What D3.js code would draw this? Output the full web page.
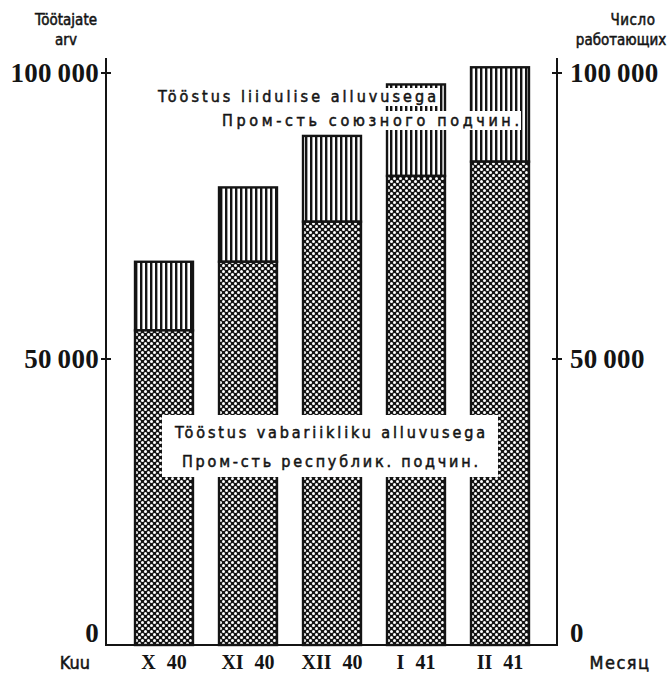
<!DOCTYPE html>
<html lang="et">
<head>
<meta charset="UTF-8">
<title>Töötajate arv</title>
<style>
  body { margin: 0; background: #fff; }
  svg { display: block; }
  .serif { font-family: "Liberation Serif", "DejaVu Serif", serif; font-weight: bold; }
  .sans { font-family: "DejaVu Sans Condensed", "DejaVu Sans", sans-serif; font-stretch: condensed; }
</style>
</head>
<body>
<svg></svg>
<script src="https://d3js.org/d3.v7.min.js"></script>
<script>
const months = ["X 40", "XI 40", "XII 40", "I 41", "II 41"];
const republic = [55000, 67000, 74000, 82000, 84500];   // Пром-сть республик. подчин.
const union = [12000, 13000, 15000, 16000, 16500];      // Пром-сть союзного подчин.
const yTicks = [0, 50000, 100000];
const upperLabel = ["Tööstus liidulise alluvusega", "Пром-сть союзного подчин."];
const lowerLabel = ["Tööstus vabariikliku alluvusega", "Пром-сть республик. подчин."];

const width = 671, height = 676;
const axisL = 106, axisR = 557, base = 645, top100 = 73;
const ink = "#141414";

const svg = d3.select("svg").attr("width", width).attr("height", height);

const x = d3.scaleBand().domain(months).range([122, 542]).paddingInner(0.31).paddingOuter(0.155);
const y = d3.scaleLinear().domain([0, 100000]).range([base, top100]);
const fmt = d3.formatLocale({decimal: ".", thousands: "\u2009", grouping: [3], currency: ["", ""]}).format(",");

// patterns
const defs = svg.append("defs");
const dots = defs.append("pattern").attr("id", "dots")
    .attr("patternUnits", "userSpaceOnUse").attr("width", 6).attr("height", 6);
dots.append("rect").attr("width", 6).attr("height", 6).attr("fill", ink);
dots.selectAll("circle").data([[1.5, 1.5], [4.5, 4.5]]).join("circle")
    .attr("cx", d => d[0]).attr("cy", d => d[1]).attr("r", 1.5).attr("fill", "#fff");

const stripes = defs.append("pattern").attr("id", "stripes")
    .attr("patternUnits", "userSpaceOnUse").attr("width", 5).attr("height", 10);
stripes.append("rect").attr("width", 5).attr("height", 10).attr("fill", "#fff");
stripes.append("rect").attr("x", 0).attr("width", 2.4).attr("height", 10).attr("fill", ink);

const rows = months.map((m, i) => ({month: m, rep: republic[i], uni: union[i]}));

// bars
const bars = svg.append("g").attr("class", "bars");
bars.selectAll("rect.uni").data(rows).join("rect")
    .attr("class", "uni")
    .attr("x", d => x(d.month))
    .attr("y", d => y(d.rep + d.uni))
    .attr("width", x.bandwidth())
    .attr("height", d => y(d.rep) - y(d.rep + d.uni))
    .attr("fill", "url(#stripes)")
    .attr("stroke", ink).attr("stroke-width", 2.4);
bars.selectAll("rect.rep").data(rows).join("rect")
    .attr("class", "rep")
    .attr("x", d => x(d.month))
    .attr("y", d => y(d.rep))
    .attr("width", x.bandwidth())
    .attr("height", d => y(0) - y(d.rep))
    .attr("fill", "url(#dots)")
    .attr("stroke", ink).attr("stroke-width", 2.4);

// axes
const axes = svg.append("g").attr("stroke", ink).attr("stroke-width", 2);
axes.append("line").attr("x1", axisL).attr("x2", axisL).attr("y1", 58).attr("y2", base);
axes.append("line").attr("x1", axisR).attr("x2", axisR).attr("y1", 58).attr("y2", base);
axes.append("line").attr("x1", axisL - 1).attr("x2", axisR + 1).attr("y1", base).attr("y2", base);
[axisL, axisR].forEach(ax => {
  axes.selectAll(null).data(yTicks.filter(v => v > 0)).join("line")
      .attr("x1", ax - 5).attr("x2", ax + 5)
      .attr("y1", d => y(d)).attr("y2", d => y(d));
});

const tickText = svg.append("g").attr("class", "serif").attr("fill", ink)
    .attr("font-size", 27).attr("letter-spacing", 0.3);
tickText.selectAll("text.l").data(yTicks).join("text")
    .attr("class", "l")
    .attr("x", 99).attr("y", d => y(d) + (d === 0 ? -3 : 9))
    .attr("text-anchor", "end").text(fmt);
tickText.selectAll("text.r").data(yTicks).join("text")
    .attr("class", "r")
    .attr("x", 570).attr("y", d => y(d) + (d === 0 ? -3 : 9))
    .attr("text-anchor", "start").text(fmt);

// month labels
svg.append("g").attr("class", "serif").attr("fill", ink).attr("font-size", 20)
  .selectAll("text").data(months).join("text")
    .attr("x", d => x(d) + x.bandwidth() / 2)
    .attr("y", 669)
    .attr("text-anchor", "middle")
    .attr("word-spacing", 6)
    .text(d => d);

// sans texts, thickened a little with a thin stroke
const sans = svg.append("g").attr("class", "sans").attr("fill", ink)
    .attr("stroke", ink).attr("stroke-width", 0.5);
sans.append("text").attr("x", 75).attr("y", 669).attr("text-anchor", "middle").attr("font-size", 18).text("Kuu");
sans.append("text").attr("x", 620).attr("y", 669).attr("text-anchor", "middle").attr("font-size", 18).attr("letter-spacing", 1.5).text("Месяц");
sans.append("text").attr("x", 66).attr("y", 25).attr("text-anchor", "middle").attr("font-size", 15).text("Töötajate");
sans.append("text").attr("x", 66).attr("y", 45).attr("text-anchor", "middle").attr("font-size", 15).text("arv");
sans.append("text").attr("x", 633).attr("y", 25).attr("text-anchor", "middle").attr("font-size", 15).attr("letter-spacing", 0.5).text("Число");
sans.append("text").attr("x", 621).attr("y", 45).attr("text-anchor", "middle").attr("font-size", 15).text("работающих");

// in-chart labels on white boxes
const upperBoxes = [{x0: 154, x1: 438, y0: 88, y1: 106, base: 102}, {x0: 218, x1: 521, y0: 111, y1: 130, base: 126}];
const notes = svg.append("g").attr("class", "sans").attr("fill", ink).attr("font-size", 16);
upperBoxes.forEach((b, i) => {
  notes.append("rect").attr("x", b.x0).attr("y", b.y0).attr("width", b.x1 - b.x0).attr("height", b.y1 - b.y0).attr("fill", "#fff");
  notes.append("text").attr("x", b.x0 + 4).attr("y", b.base)
      .attr("stroke", ink).attr("stroke-width", 0.5)
      .attr("textLength", b.x1 - b.x0 - 6).attr("lengthAdjust", "spacing").text(upperLabel[i]);
});
notes.append("rect").attr("x", 162).attr("y", 415).attr("width", 336).attr("height", 62).attr("fill", "#fff");
notes.append("text").attr("x", 175).attr("y", 438)
    .attr("stroke", ink).attr("stroke-width", 0.5)
    .attr("textLength", 310).attr("lengthAdjust", "spacing").text(lowerLabel[0]);
notes.append("text").attr("x", 182).attr("y", 467)
    .attr("stroke", ink).attr("stroke-width", 0.5)
    .attr("textLength", 296).attr("lengthAdjust", "spacing").text(lowerLabel[1]);
</script>
</body>
</html>
